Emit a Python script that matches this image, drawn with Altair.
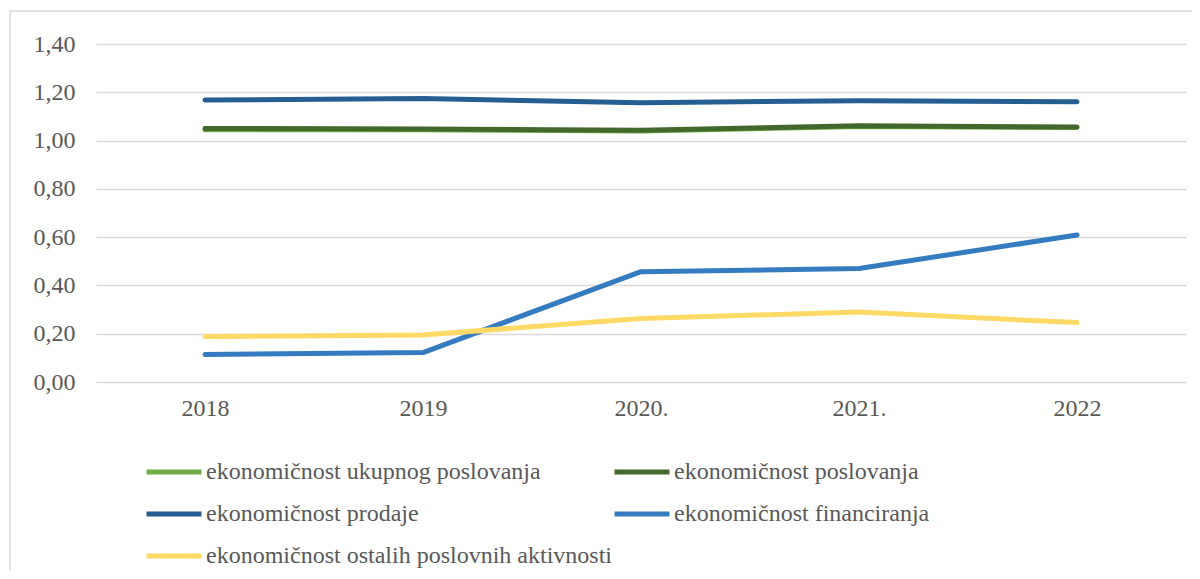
import altair as alt
import pandas as pd

years = ["2018", "2019", "2020.", "2021.", "2022"]
series_names = [
    "ekonomičnost ukupnog poslovanja",
    "ekonomičnost poslovanja",
    "ekonomičnost prodaje",
    "ekonomičnost financiranja",
    "ekonomičnost ostalih poslovnih aktivnosti",
]
ukupnog = [1.045, 1.045, 1.040, 1.058, 1.054]
poslovanja = [1.050, 1.048, 1.043, 1.061, 1.056]
prodaje = [1.168, 1.174, 1.157, 1.165, 1.161]
financiranja = [0.114, 0.122, 0.457, 0.470, 0.609]
ostalih = [0.188, 0.195, 0.263, 0.290, 0.246]
colors = ["#70AD47", "#43682B", "#255E91", "#357BC0", "#FFD966"]

all_values = [ukupnog, poslovanja, prodaje, financiranja, ostalih]
rows = []
for si, (name, vals) in enumerate(zip(series_names, all_values)):
    for yr, v in zip(years, vals):
        rows.append({"year": yr, "value": v, "series": name, "ord": si})
df = pd.DataFrame(rows)

font = "Liberation Serif"
text_color = "#595959"
fs = 24

frame = alt.Chart(pd.DataFrame({"a": [0]})).mark_rect(
    fill="transparent", stroke="#D9D9D9", strokeWidth=1.5
).encode(
    x=alt.value(-86), x2=alt.value(1200), y=alt.value(-33), y2=alt.value(700)
)

lines = alt.Chart(df).mark_line(strokeWidth=5, strokeCap="round", strokeJoin="round").encode(
    x=alt.X("year:N", sort=years, title=None,
            scale=alt.Scale(type="point", padding=0.5),
            axis=alt.Axis(labelAngle=0, domain=False, ticks=False, grid=False,
                          labelPadding=14, labelFont=font, labelFontSize=fs,
                          labelColor=text_color)),
    y=alt.Y("value:Q", title=None,
            scale=alt.Scale(domain=[0, 1.4], nice=False, zero=True),
            axis=alt.Axis(values=[0, 0.2, 0.4, 0.6, 0.8, 1.0, 1.2, 1.4],
                          labelExpr="replace(format(datum.value, '.2f'), '.', ',')",
                          domain=False, ticks=False, grid=True, gridColor="#D9D9D9",
                          gridWidth=1.5, labelPadding=21, labelFont=font,
                          labelFontSize=fs, labelColor=text_color)),
    color=alt.Color("series:N", sort=series_names,
                    scale=alt.Scale(domain=series_names, range=colors),
                    legend=alt.Legend(title=None, orient="none", legendX=48, legendY=398,
                                      direction="horizontal",
                                      columns=2, symbolType="stroke", symbolSize=3025,
                                      symbolStrokeWidth=5, labelOffset=2,
                                      labelLimit=600, labelFont=font, labelFontSize=fs,
                                      labelColor=text_color, rowPadding=-11,
                                      columnPadding=-9)),
    order=alt.Order("ord:Q"),
    detail="series:N",
)

chart = alt.layer(frame, lines).properties(
    width=1090, height=338,
    autosize=alt.AutoSizeParams(type="none"),
    padding={"left": 88, "top": 36, "right": 6, "bottom": 188},
).configure(font=font).configure_view(stroke=None).configure_legend(
    labelFont=font, labelFontSize=fs, labelColor=text_color
)

chart.save("out.html", embed_options={"renderer": "svg", "actions": False})
